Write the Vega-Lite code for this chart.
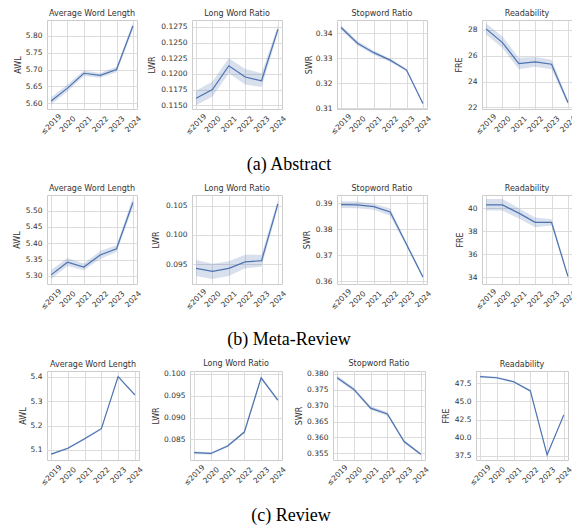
{
"$schema":"https://vega.github.io/schema/vega-lite/v6.json",
"padding":{"left":0,"top":9,"right":0,"bottom":0},
"background":"white",
"datasets":{"d":[
{"s":"a","m":"AWL","y":"≤2019","v":5.607,"lo":5.596,"hi":5.618},
{"s":"a","m":"AWL","y":"2020","v":5.645,"lo":5.635,"hi":5.656},
{"s":"a","m":"AWL","y":"2021","v":5.689,"lo":5.681,"hi":5.697},
{"s":"a","m":"AWL","y":"2022","v":5.683,"lo":5.676,"hi":5.690},
{"s":"a","m":"AWL","y":"2023","v":5.700,"lo":5.692,"hi":5.708},
{"s":"a","m":"AWL","y":"2024","v":5.829,"lo":5.819,"hi":5.839},
{"s":"a","m":"LWR","y":"≤2019","v":0.1161,"lo":0.1150,"hi":0.1173},
{"s":"a","m":"LWR","y":"2020","v":0.1175,"lo":0.1164,"hi":0.1188},
{"s":"a","m":"LWR","y":"2021","v":0.1213,"lo":0.1201,"hi":0.1225},
{"s":"a","m":"LWR","y":"2022","v":0.1195,"lo":0.1183,"hi":0.1208},
{"s":"a","m":"LWR","y":"2023","v":0.1189,"lo":0.1179,"hi":0.1201},
{"s":"a","m":"LWR","y":"2024","v":0.1271,"lo":0.1265,"hi":0.1277},
{"s":"a","m":"SWR","y":"≤2019","v":0.3423,"lo":0.3414,"hi":0.3432},
{"s":"a","m":"SWR","y":"2020","v":0.3360,"lo":0.3351,"hi":0.3369},
{"s":"a","m":"SWR","y":"2021","v":0.3322,"lo":0.3314,"hi":0.3330},
{"s":"a","m":"SWR","y":"2022","v":0.3292,"lo":0.3285,"hi":0.3299},
{"s":"a","m":"SWR","y":"2023","v":0.3252,"lo":0.3246,"hi":0.3258},
{"s":"a","m":"SWR","y":"2024","v":0.3118,"lo":0.3113,"hi":0.3123},
{"s":"a","m":"FRE","y":"≤2019","v":28.08,"lo":27.65,"hi":28.5},
{"s":"a","m":"FRE","y":"2020","v":27.02,"lo":26.6,"hi":27.5},
{"s":"a","m":"FRE","y":"2021","v":25.4,"lo":24.95,"hi":25.85},
{"s":"a","m":"FRE","y":"2022","v":25.53,"lo":25.15,"hi":25.9},
{"s":"a","m":"FRE","y":"2023","v":25.35,"lo":24.95,"hi":25.7},
{"s":"a","m":"FRE","y":"2024","v":22.39,"lo":22.2,"hi":22.6},
{"s":"b","m":"AWL","y":"≤2019","v":5.303,"lo":5.290,"hi":5.318},
{"s":"b","m":"AWL","y":"2020","v":5.342,"lo":5.330,"hi":5.355},
{"s":"b","m":"AWL","y":"2021","v":5.327,"lo":5.317,"hi":5.338},
{"s":"b","m":"AWL","y":"2022","v":5.364,"lo":5.352,"hi":5.376},
{"s":"b","m":"AWL","y":"2023","v":5.383,"lo":5.373,"hi":5.394},
{"s":"b","m":"AWL","y":"2024","v":5.525,"lo":5.510,"hi":5.540},
{"s":"b","m":"LWR","y":"≤2019","v":0.0943,"lo":0.0930,"hi":0.0957},
{"s":"b","m":"LWR","y":"2020","v":0.0938,"lo":0.0925,"hi":0.0951},
{"s":"b","m":"LWR","y":"2021","v":0.0943,"lo":0.0930,"hi":0.0955},
{"s":"b","m":"LWR","y":"2022","v":0.0954,"lo":0.0943,"hi":0.0966},
{"s":"b","m":"LWR","y":"2023","v":0.0956,"lo":0.0946,"hi":0.0966},
{"s":"b","m":"LWR","y":"2024","v":0.1053,"lo":0.1046,"hi":0.1060},
{"s":"b","m":"SWR","y":"≤2019","v":0.3895,"lo":0.3882,"hi":0.3908},
{"s":"b","m":"SWR","y":"2020","v":0.3894,"lo":0.3881,"hi":0.3907},
{"s":"b","m":"SWR","y":"2021","v":0.3887,"lo":0.3875,"hi":0.3898},
{"s":"b","m":"SWR","y":"2022","v":0.3867,"lo":0.3852,"hi":0.3880},
{"s":"b","m":"SWR","y":"2023","v":0.3742,"lo":0.3734,"hi":0.3750},
{"s":"b","m":"SWR","y":"2024","v":0.3617,"lo":0.3610,"hi":0.3624},
{"s":"b","m":"FRE","y":"≤2019","v":40.28,"lo":39.8,"hi":40.8},
{"s":"b","m":"FRE","y":"2020","v":40.28,"lo":39.8,"hi":40.8},
{"s":"b","m":"FRE","y":"2021","v":39.57,"lo":39.1,"hi":40.0},
{"s":"b","m":"FRE","y":"2022","v":38.77,"lo":38.35,"hi":39.2},
{"s":"b","m":"FRE","y":"2023","v":38.77,"lo":38.5,"hi":39.05},
{"s":"b","m":"FRE","y":"2024","v":34.09,"lo":33.95,"hi":34.25},
{"s":"c","m":"AWL","y":"≤2019","v":5.083,"lo":5.079,"hi":5.087},
{"s":"c","m":"AWL","y":"2020","v":5.107,"lo":5.103,"hi":5.111},
{"s":"c","m":"AWL","y":"2021","v":5.146,"lo":5.142,"hi":5.150},
{"s":"c","m":"AWL","y":"2022","v":5.187,"lo":5.183,"hi":5.191},
{"s":"c","m":"AWL","y":"2023","v":5.400,"lo":5.396,"hi":5.404},
{"s":"c","m":"AWL","y":"2024","v":5.325,"lo":5.321,"hi":5.329},
{"s":"c","m":"LWR","y":"≤2019","v":0.0820,"lo":0.0817,"hi":0.0823},
{"s":"c","m":"LWR","y":"2020","v":0.0818,"lo":0.0815,"hi":0.0821},
{"s":"c","m":"LWR","y":"2021","v":0.0835,"lo":0.0832,"hi":0.0838},
{"s":"c","m":"LWR","y":"2022","v":0.0867,"lo":0.0864,"hi":0.0870},
{"s":"c","m":"LWR","y":"2023","v":0.0991,"lo":0.0988,"hi":0.0995},
{"s":"c","m":"LWR","y":"2024","v":0.0940,"lo":0.0937,"hi":0.0943},
{"s":"c","m":"SWR","y":"≤2019","v":0.3788,"lo":0.3782,"hi":0.3794},
{"s":"c","m":"SWR","y":"2020","v":0.3751,"lo":0.3745,"hi":0.3757},
{"s":"c","m":"SWR","y":"2021","v":0.3692,"lo":0.3686,"hi":0.3698},
{"s":"c","m":"SWR","y":"2022","v":0.3674,"lo":0.3668,"hi":0.3680},
{"s":"c","m":"SWR","y":"2023","v":0.3587,"lo":0.3582,"hi":0.3592},
{"s":"c","m":"SWR","y":"2024","v":0.3547,"lo":0.3543,"hi":0.3551},
{"s":"c","m":"FRE","y":"≤2019","v":48.41,"lo":48.25,"hi":48.57},
{"s":"c","m":"FRE","y":"2020","v":48.25,"lo":48.1,"hi":48.4},
{"s":"c","m":"FRE","y":"2021","v":47.7,"lo":47.55,"hi":47.85},
{"s":"c","m":"FRE","y":"2022","v":46.45,"lo":46.3,"hi":46.6},
{"s":"c","m":"FRE","y":"2023","v":37.65,"lo":37.5,"hi":37.8},
{"s":"c","m":"FRE","y":"2024","v":43.15,"lo":43.0,"hi":43.3}
]},
"data":{"name":"d"},
"spacing":10,
"vconcat":[
{"title":{"text":"(a) Abstract","orient":"bottom","anchor":"middle","frame":"bounds","font":"Liberation Serif","fontSize":18,"fontWeight":"normal","color":"black","offset":20},
 "spacing":55,"bounds":"flush",
 "hconcat":[
  {"width":90,"height":89,"title":"Average Word Length","transform":[{"filter":"datum.s=='a'&&datum.m=='AWL'"}],
   "encoding":{"x":{"field":"y","type":"ordinal","title":null,"axis":{"grid":true},"scale":{"type":"point","padding":0.25,"domain":["≤2019","2020","2021","2022","2023","2024"]}}},
   "layer":[
    {"mark":{"type":"area","color":"#4c72b0","opacity":0.22},"encoding":{"y":{"field":"lo","type":"quantitative","title":"AWL","scale":{"domain":[5.583,5.847]},"axis":{"values":[5.6,5.65,5.7,5.75,5.8],"format":".2f","titlePadding":-21}},"y2":{"field":"hi"}}},
    {"mark":{"type":"line","color":"#4c72b0","strokeWidth":1.2},"encoding":{"y":{"field":"v","type":"quantitative","title":"AWL","scale":{"domain":[5.583,5.847]},"axis":{"values":[5.6,5.65,5.7,5.75,5.8],"format":".2f","titlePadding":-21}}}}
   ]},
  {"width":90,"height":89,"title":"Long Word Ratio","transform":[{"filter":"datum.s=='a'&&datum.m=='LWR'"}],
   "encoding":{"x":{"field":"y","type":"ordinal","title":null,"axis":{"grid":true},"scale":{"type":"point","padding":0.25,"domain":["≤2019","2020","2021","2022","2023","2024"]}}},
   "layer":[
    {"mark":{"type":"area","color":"#4c72b0","opacity":0.22},"encoding":{"y":{"field":"lo","type":"quantitative","title":"LWR","scale":{"domain":[0.1144,0.1286]},"axis":{"values":[0.115,0.1175,0.12,0.1225,0.125,0.1275],"format":".4f","titlePadding":-10}},"y2":{"field":"hi"}}},
    {"mark":{"type":"line","color":"#4c72b0","strokeWidth":1.2},"encoding":{"y":{"field":"v","type":"quantitative","title":"LWR","scale":{"domain":[0.1144,0.1286]},"axis":{"values":[0.115,0.1175,0.12,0.1225,0.125,0.1275],"format":".4f","titlePadding":-10}}}}
   ]},
  {"width":90,"height":89,"title":"Stopword Ratio","transform":[{"filter":"datum.s=='a'&&datum.m=='SWR'"}],
   "encoding":{"x":{"field":"y","type":"ordinal","title":null,"axis":{"grid":true},"scale":{"type":"point","padding":0.25,"domain":["≤2019","2020","2021","2022","2023","2024"]}}},
   "layer":[
    {"mark":{"type":"area","color":"#4c72b0","opacity":0.22},"encoding":{"y":{"field":"lo","type":"quantitative","title":"SWR","scale":{"domain":[0.3096,0.3453]},"axis":{"values":[0.31,0.32,0.33,0.34],"format":".2f","titlePadding":-22}},"y2":{"field":"hi"}}},
    {"mark":{"type":"line","color":"#4c72b0","strokeWidth":1.2},"encoding":{"y":{"field":"v","type":"quantitative","title":"SWR","scale":{"domain":[0.3096,0.3453]},"axis":{"values":[0.31,0.32,0.33,0.34],"format":".2f","titlePadding":-22}}}}
   ]},
  {"width":90,"height":89,"title":"Readability","transform":[{"filter":"datum.s=='a'&&datum.m=='FRE'"}],
   "encoding":{"x":{"field":"y","type":"ordinal","title":null,"axis":{"grid":true},"scale":{"type":"point","padding":0.25,"domain":["≤2019","2020","2021","2022","2023","2024"]}}},
   "layer":[
    {"mark":{"type":"area","color":"#4c72b0","opacity":0.22},"encoding":{"y":{"field":"lo","type":"quantitative","title":"FRE","scale":{"domain":[21.88,28.77]},"axis":{"values":[22,24,26,28],"format":"d","titlePadding":-27}},"y2":{"field":"hi"}}},
    {"mark":{"type":"line","color":"#4c72b0","strokeWidth":1.2},"encoding":{"y":{"field":"v","type":"quantitative","title":"FRE","scale":{"domain":[21.88,28.77]},"axis":{"values":[22,24,26,28],"format":"d","titlePadding":-27}}}}
   ]}
 ]},
{"title":{"text":"(b) Meta-Review","orient":"bottom","anchor":"middle","frame":"bounds","font":"Liberation Serif","fontSize":18,"fontWeight":"normal","color":"black","offset":20},
 "spacing":55,"bounds":"flush",
 "hconcat":[
  {"width":90,"height":89,"title":"Average Word Length","transform":[{"filter":"datum.s=='b'&&datum.m=='AWL'"}],
   "encoding":{"x":{"field":"y","type":"ordinal","title":null,"axis":{"grid":true},"scale":{"type":"point","padding":0.25,"domain":["≤2019","2020","2021","2022","2023","2024"]}}},
   "layer":[
    {"mark":{"type":"area","color":"#4c72b0","opacity":0.22},"encoding":{"y":{"field":"lo","type":"quantitative","title":"AWL","scale":{"domain":[5.275,5.548]},"axis":{"values":[5.3,5.35,5.4,5.45,5.5],"format":".2f","titlePadding":-20}},"y2":{"field":"hi"}}},
    {"mark":{"type":"line","color":"#4c72b0","strokeWidth":1.2},"encoding":{"y":{"field":"v","type":"quantitative","title":"AWL","scale":{"domain":[5.275,5.548]},"axis":{"values":[5.3,5.35,5.4,5.45,5.5],"format":".2f","titlePadding":-20}}}}
   ]},
  {"width":90,"height":89,"title":"Long Word Ratio","transform":[{"filter":"datum.s=='b'&&datum.m=='LWR'"}],
   "encoding":{"x":{"field":"y","type":"ordinal","title":null,"axis":{"grid":true},"scale":{"type":"point","padding":0.25,"domain":["≤2019","2020","2021","2022","2023","2024"]}}},
   "layer":[
    {"mark":{"type":"area","color":"#4c72b0","opacity":0.22},"encoding":{"y":{"field":"lo","type":"quantitative","title":"LWR","scale":{"domain":[0.09163,0.1068]},"axis":{"values":[0.095,0.1,0.105],"format":".3f","titlePadding":-14}},"y2":{"field":"hi"}}},
    {"mark":{"type":"line","color":"#4c72b0","strokeWidth":1.2},"encoding":{"y":{"field":"v","type":"quantitative","title":"LWR","scale":{"domain":[0.09163,0.1068]},"axis":{"values":[0.095,0.1,0.105],"format":".3f","titlePadding":-14}}}}
   ]},
  {"width":90,"height":89,"title":"Stopword Ratio","transform":[{"filter":"datum.s=='b'&&datum.m=='SWR'"}],
   "encoding":{"x":{"field":"y","type":"ordinal","title":null,"axis":{"grid":true},"scale":{"type":"point","padding":0.25,"domain":["≤2019","2020","2021","2022","2023","2024"]}}},
   "layer":[
    {"mark":{"type":"area","color":"#4c72b0","opacity":0.22},"encoding":{"y":{"field":"lo","type":"quantitative","title":"SWR","scale":{"domain":[0.359,0.3932]},"axis":{"values":[0.36,0.37,0.38,0.39],"format":".2f","titlePadding":-20}},"y2":{"field":"hi"}}},
    {"mark":{"type":"line","color":"#4c72b0","strokeWidth":1.2},"encoding":{"y":{"field":"v","type":"quantitative","title":"SWR","scale":{"domain":[0.359,0.3932]},"axis":{"values":[0.36,0.37,0.38,0.39],"format":".2f","titlePadding":-20}}}}
   ]},
  {"width":90,"height":89,"title":"Readability","transform":[{"filter":"datum.s=='b'&&datum.m=='FRE'"}],
   "encoding":{"x":{"field":"y","type":"ordinal","title":null,"axis":{"grid":true},"scale":{"type":"point","padding":0.25,"domain":["≤2019","2020","2021","2022","2023","2024"]}}},
   "layer":[
    {"mark":{"type":"area","color":"#4c72b0","opacity":0.22},"encoding":{"y":{"field":"lo","type":"quantitative","title":"FRE","scale":{"domain":[33.43,41.14]},"axis":{"values":[34,36,38,40],"format":"d","titlePadding":-28}},"y2":{"field":"hi"}}},
    {"mark":{"type":"line","color":"#4c72b0","strokeWidth":1.2},"encoding":{"y":{"field":"v","type":"quantitative","title":"FRE","scale":{"domain":[33.43,41.14]},"axis":{"values":[34,36,38,40],"format":"d","titlePadding":-28}}}}
   ]}
 ]},
{"title":{"text":"(c) Review","orient":"bottom","anchor":"middle","frame":"bounds","font":"Liberation Serif","fontSize":18,"fontWeight":"normal","color":"black","offset":20},
 "spacing":51,"bounds":"flush",
 "hconcat":[
  {"width":92,"height":89,"title":"Average Word Length","transform":[{"filter":"datum.s=='c'&&datum.m=='AWL'"}],
   "encoding":{"x":{"field":"y","type":"ordinal","title":null,"axis":{"grid":true},"scale":{"type":"point","padding":0.25,"domain":["≤2019","2020","2021","2022","2023","2024"]}}},
   "layer":[
    {"mark":{"type":"area","color":"#4c72b0","opacity":0.22},"encoding":{"y":{"field":"lo","type":"quantitative","title":"AWL","scale":{"domain":[5.059,5.423]},"axis":{"values":[5.1,5.2,5.3,5.4],"format":".1f","titlePadding":-18,"minExtent":38,"maxExtent":38}},"y2":{"field":"hi"}}},
    {"mark":{"type":"line","color":"#4c72b0","strokeWidth":1.2},"encoding":{"y":{"field":"v","type":"quantitative","title":"AWL","scale":{"domain":[5.059,5.423]},"axis":{"values":[5.1,5.2,5.3,5.4],"format":".1f","titlePadding":-18,"minExtent":38,"maxExtent":38}}}}
   ]},
  {"width":92,"height":89,"title":"Long Word Ratio","transform":[{"filter":"datum.s=='c'&&datum.m=='LWR'"}],
   "encoding":{"x":{"field":"y","type":"ordinal","title":null,"axis":{"grid":true},"scale":{"type":"point","padding":0.25,"domain":["≤2019","2020","2021","2022","2023","2024"]}}},
   "layer":[
    {"mark":{"type":"area","color":"#4c72b0","opacity":0.22},"encoding":{"y":{"field":"lo","type":"quantitative","title":"LWR","scale":{"domain":[0.0803,0.10068]},"axis":{"values":[0.085,0.09,0.095,0.1],"format":".3f","titlePadding":-8,"minExtent":38,"maxExtent":38}},"y2":{"field":"hi"}}},
    {"mark":{"type":"line","color":"#4c72b0","strokeWidth":1.2},"encoding":{"y":{"field":"v","type":"quantitative","title":"LWR","scale":{"domain":[0.0803,0.10068]},"axis":{"values":[0.085,0.09,0.095,0.1],"format":".3f","titlePadding":-8,"minExtent":38,"maxExtent":38}}}}
   ]},
  {"width":92,"height":89,"title":"Stopword Ratio","transform":[{"filter":"datum.s=='c'&&datum.m=='SWR'"}],
   "encoding":{"x":{"field":"y","type":"ordinal","title":null,"axis":{"grid":true},"scale":{"type":"point","padding":0.25,"domain":["≤2019","2020","2021","2022","2023","2024"]}}},
   "layer":[
    {"mark":{"type":"area","color":"#4c72b0","opacity":0.22},"encoding":{"y":{"field":"lo","type":"quantitative","title":"SWR","scale":{"domain":[0.3529,0.3809]},"axis":{"values":[0.355,0.36,0.365,0.37,0.375,0.38],"format":".3f","titlePadding":-8,"minExtent":38,"maxExtent":38}},"y2":{"field":"hi"}}},
    {"mark":{"type":"line","color":"#4c72b0","strokeWidth":1.2},"encoding":{"y":{"field":"v","type":"quantitative","title":"SWR","scale":{"domain":[0.3529,0.3809]},"axis":{"values":[0.355,0.36,0.365,0.37,0.375,0.38],"format":".3f","titlePadding":-8,"minExtent":38,"maxExtent":38}}}}
   ]},
  {"width":92,"height":89,"title":"Readability","transform":[{"filter":"datum.s=='c'&&datum.m=='FRE'"}],
   "encoding":{"x":{"field":"y","type":"ordinal","title":null,"axis":{"grid":true},"scale":{"type":"point","padding":0.25,"domain":["≤2019","2020","2021","2022","2023","2024"]}}},
   "layer":[
    {"mark":{"type":"area","color":"#4c72b0","opacity":0.22},"encoding":{"y":{"field":"lo","type":"quantitative","title":"FRE","scale":{"domain":[36.95,49.18]},"axis":{"values":[37.5,40,42.5,45,47.5],"format":".1f","titlePadding":-12,"minExtent":38,"maxExtent":38}},"y2":{"field":"hi"}}},
    {"mark":{"type":"line","color":"#4c72b0","strokeWidth":1.2},"encoding":{"y":{"field":"v","type":"quantitative","title":"FRE","scale":{"domain":[36.95,49.18]},"axis":{"values":[37.5,40,42.5,45,47.5],"format":".1f","titlePadding":-12,"minExtent":38,"maxExtent":38}}}}
   ]}
 ]}
],
"config":{
 "view":{"stroke":"#cccccc","strokeWidth":1},
 "axis":{"domain":false,"ticks":false,"grid":true,"gridColor":"#dcdcdc","gridWidth":1,"labelFont":"DejaVu Sans","labelFontSize":7.5,"labelColor":"#333333","titleFont":"DejaVu Sans","titleFontSize":8,"titleFontWeight":"normal","titleColor":"#333333"},
 "axisX":{"labelAngle":-45,"labelAlign":"center","labelBaseline":"middle","labelPadding":15},
 "axisY":{"minExtent":46,"maxExtent":46,"labelPadding":5},
 "title":{"font":"DejaVu Sans","fontSize":8,"fontWeight":"normal","color":"#333333","offset":2,"frame":"group","anchor":"middle"}
}
}
